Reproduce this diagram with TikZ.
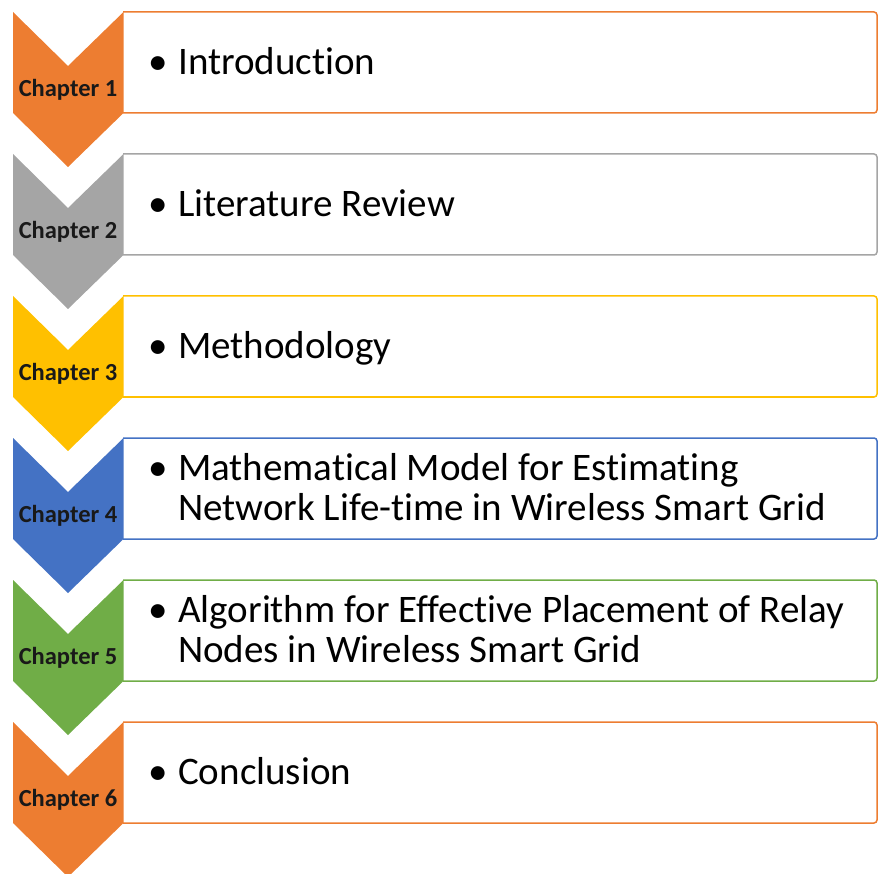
\documentclass[tikz,border=0pt]{standalone}
\usepackage{fontspec}
\setmainfont{Carlito}[Ligatures=NoCommon]
\definecolor{corange}{HTML}{ED7D31}
\definecolor{cgray}{HTML}{A5A5A5}
\definecolor{cyellow}{HTML}{FFC000}
\definecolor{cblue}{HTML}{4472C4}
\definecolor{cgreen}{HTML}{70AD47}
\newcommand{\bul}{\makebox[30pt][l]{\textbullet}}
\tikzset{
  chaplabel/.style={font=\bfseries\fontsize{24.5}{28}\selectfont, text=black!90, inner sep=0pt, anchor=center},
  itemtext/.style={font=\fontsize{39}{40}\selectfont, text=black, inner sep=0pt, anchor=west, align=left, text depth=0pt},
  oneline/.style={text height=24.6pt},
  twoline/.style={text height=64.6pt},
}
\newcommand{\chapter}[5]{% #1 index, #2 y0, #3 colour, #4 lines style, #5 text
  \draw[#3, line width=1.5pt, fill=white] (123,#2) [rounded corners=3pt] -- (877,#2) -- (877,#2+101) [sharp corners] -- (123,#2+101);
  \fill[#3] (13,#2) -- (68,#2+54) -- (123.5,#2) -- (123.5,#2+101) -- (68,#2+155) -- (13,#2+101) -- cycle;
  \node[chaplabel] (c#1) at (68,#2+78) {Chapter #1};
  \node[itemtext,#4] (t#1) at (148,#2+50.5) {#5};
}
\begin{document}
\begin{tikzpicture}[x=1pt,y=-1pt]
\useasboundingbox (0,0) rectangle (878,874);
\begin{scope}
\clip (0,0) rectangle (878,874);
\chapter{1}{12}{corange}{oneline}{\bul Introduction}
\chapter{2}{154}{cgray}{oneline}{\bul Literature Review}
\chapter{3}{296}{cyellow}{oneline}{\bul Methodology}
\chapter{4}{438}{cblue}{twoline}{\bul Mathematical Model for Estimating\\\hspace*{30pt}Network Life-time in Wireless Smart Grid}
\chapter{5}{580}{cgreen}{twoline}{\bul Algorithm for Effective Placement of Relay\\\hspace*{30pt}Nodes in Wireless Smart Grid}
\chapter{6}{722}{corange}{oneline}{\bul Conclusion}
\end{scope}
\end{tikzpicture}
\end{document}
